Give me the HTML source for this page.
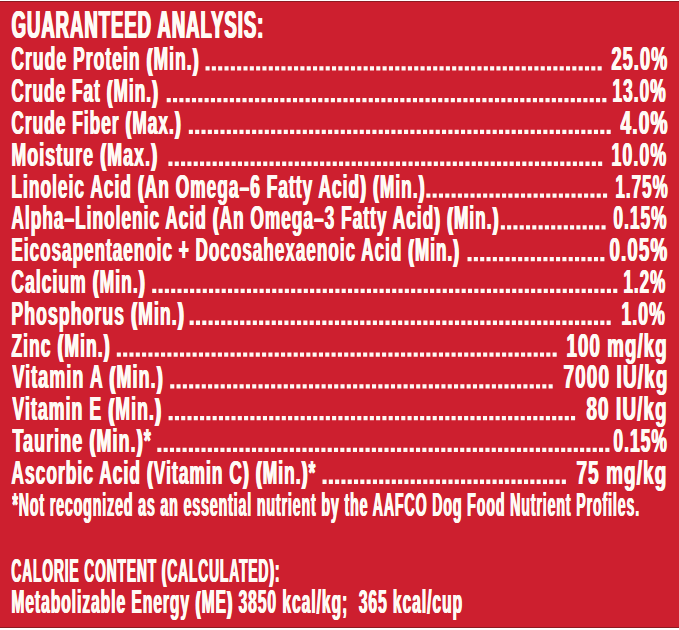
<!DOCTYPE html>
<html><head><meta charset="utf-8"><style>
html,body{margin:0;padding:0}
body{width:679px;height:630px;overflow:hidden;position:relative;background:#cd1f2f}
.t{position:absolute;white-space:pre;font-family:"Liberation Sans",sans-serif;font-weight:bold;font-size:32.6px;line-height:32.6px;color:#fffaf5;transform-origin:0 0;letter-spacing:2px;text-shadow:0.8px 0 0 #fffaf5, 1.6px 0 0 #fffaf5}
.s3{text-shadow:0.8px 0 0 #fffaf5, 1.6px 0 0 #fffaf5, 2.4px 0 0 #fffaf5}
.p{font-size:29px;position:relative;top:-0.6px;letter-spacing:3.5px;text-shadow:0.8px 0 0 #fffaf5, 1.6px 0 0 #fffaf5, 2.5px 0 0 #fffaf5, 3.4px 0 0 #fffaf5}
.b{position:absolute;left:0;width:679px}
</style></head><body>
<div class="b" style="top:0;height:1px;background:#fff"></div><div class="b" style="top:1px;height:1px;background:#8e1a22"></div>
<div class="t s3" style="font-size:38px;line-height:38px;left:11.41px;top:6.00px;transform:scaleX(0.4874)">GUARANTEED ANALYSIS:</div>
<div class="t" style="left:11.06px;top:43.40px;transform:scaleX(0.5351)">Crude Protein <span class="p">(</span>Min.<span class="p">)</span></div>
<div class="t" style="left:611.14px;top:43.40px;transform:scaleX(0.5560)">25.0%</div>
<div class="t" style="left:11.07px;top:75.20px;transform:scaleX(0.5259)">Crude Fat <span class="p">(</span>Min.<span class="p">)</span></div>
<div class="t" style="left:611.54px;top:75.20px;transform:scaleX(0.5293)">13.0%</div>
<div class="t" style="left:11.07px;top:107.00px;transform:scaleX(0.5281)">Crude Fiber <span class="p">(</span>Max.<span class="p">)</span></div>
<div class="t" style="left:619.60px;top:107.00px;transform:scaleX(0.5864)">4.0%</div>
<div class="t" style="left:10.51px;top:138.80px;transform:scaleX(0.5447)">Moisture <span class="p">(</span>Max.<span class="p">)</span></div>
<div class="t" style="left:610.51px;top:138.80px;transform:scaleX(0.5455)">10.0%</div>
<div class="t" style="left:10.54px;top:170.60px;transform:scaleX(0.5297)">Linoleic Acid <span class="p">(</span>An Omega–6 Fatty Acid<span class="p">)</span> <span class="p">(</span>Min.<span class="p">)</span></div>
<div class="t" style="left:614.56px;top:170.60px;transform:scaleX(0.5202)">1.75%</div>
<div class="t" style="left:11.07px;top:202.40px;transform:scaleX(0.5280)">Alpha–Linolenic Acid <span class="p">(</span>An Omega–3 Fatty Acid<span class="p">)</span> <span class="p">(</span>Min.<span class="p">)</span></div>
<div class="t" style="left:612.77px;top:202.40px;transform:scaleX(0.5290)">0.15%</div>
<div class="t" style="left:10.55px;top:234.20px;transform:scaleX(0.5229)">Eicosapentaenoic + Docosahexaenoic Acid <span class="p">(</span>Min.<span class="p">)</span></div>
<div class="t" style="left:608.73px;top:234.20px;transform:scaleX(0.5740)">0.05%</div>
<div class="t" style="left:11.07px;top:266.00px;transform:scaleX(0.5349)">Calcium <span class="p">(</span>Min.<span class="p">)</span></div>
<div class="t" style="left:623.36px;top:266.00px;transform:scaleX(0.5215)">1.2%</div>
<div class="t" style="left:10.52px;top:297.80px;transform:scaleX(0.5410)">Phosphorus <span class="p">(</span>Min.<span class="p">)</span></div>
<div class="t" style="left:621.12px;top:297.80px;transform:scaleX(0.5405)">1.0%</div>
<div class="t" style="left:11.07px;top:329.60px;transform:scaleX(0.5350)">Zinc <span class="p">(</span>Min.<span class="p">)</span></div>
<div class="t" style="left:565.56px;top:329.60px;transform:scaleX(0.5717)">100 mg/kg</div>
<div class="t" style="left:11.60px;top:361.40px;transform:scaleX(0.5493)">Vitamin A <span class="p">(</span>Min.<span class="p">)</span></div>
<div class="t" style="left:562.72px;top:361.40px;transform:scaleX(0.5803)">7000 IU/kg</div>
<div class="t" style="left:11.60px;top:393.20px;transform:scaleX(0.5415)">Vitamin E <span class="p">(</span>Min.<span class="p">)</span></div>
<div class="t" style="left:586.42px;top:393.20px;transform:scaleX(0.5768)">80 IU/kg</div>
<div class="t" style="left:11.60px;top:425.00px;transform:scaleX(0.5480)">Taurine <span class="p">(</span>Min.<span class="p">)</span>*</div>
<div class="t" style="left:612.87px;top:425.00px;transform:scaleX(0.5320)">0.15%</div>
<div class="t" style="left:11.07px;top:456.80px;transform:scaleX(0.5312)">Ascorbic Acid <span class="p">(</span>Vitamin C<span class="p">)</span> <span class="p">(</span>Min.<span class="p">)</span>*</div>
<div class="t" style="left:575.92px;top:456.80px;transform:scaleX(0.5786)">75 mg/kg</div>
<div class="t" style="left:11.60px;top:488.60px;transform:scaleX(0.4352)">*Not recognized as an essential nutrient by the AAFCO Dog Food Nutrient Profiles.</div>
<div class="t" style="left:11.18px;top:554.60px;transform:scaleX(0.4246)">CALORIE CONTENT <span class="p">(</span>CALCULATED<span class="p">)</span>:</div>
<div class="t" style="left:10.64px;top:586.30px;transform:scaleX(0.4789)">Metabolizable Energy <span class="p">(</span>ME<span class="p">)</span> 3850 kcal/kg;  365 kcal/cup</div>
<svg style="position:absolute;left:0;top:0" width="679" height="630"><path fill="#fffaf5" d="M205.50 66.20h4.1v4.3h-4.1zM211.82 66.20h4.1v4.3h-4.1zM218.15 66.20h4.1v4.3h-4.1zM224.47 66.20h4.1v4.3h-4.1zM230.80 66.20h4.1v4.3h-4.1zM237.12 66.20h4.1v4.3h-4.1zM243.45 66.20h4.1v4.3h-4.1zM249.77 66.20h4.1v4.3h-4.1zM256.09 66.20h4.1v4.3h-4.1zM262.42 66.20h4.1v4.3h-4.1zM268.74 66.20h4.1v4.3h-4.1zM275.07 66.20h4.1v4.3h-4.1zM281.39 66.20h4.1v4.3h-4.1zM287.71 66.20h4.1v4.3h-4.1zM294.04 66.20h4.1v4.3h-4.1zM300.36 66.20h4.1v4.3h-4.1zM306.69 66.20h4.1v4.3h-4.1zM313.01 66.20h4.1v4.3h-4.1zM319.34 66.20h4.1v4.3h-4.1zM325.66 66.20h4.1v4.3h-4.1zM331.98 66.20h4.1v4.3h-4.1zM338.31 66.20h4.1v4.3h-4.1zM344.63 66.20h4.1v4.3h-4.1zM350.96 66.20h4.1v4.3h-4.1zM357.28 66.20h4.1v4.3h-4.1zM363.60 66.20h4.1v4.3h-4.1zM369.93 66.20h4.1v4.3h-4.1zM376.25 66.20h4.1v4.3h-4.1zM382.58 66.20h4.1v4.3h-4.1zM388.90 66.20h4.1v4.3h-4.1zM395.23 66.20h4.1v4.3h-4.1zM401.55 66.20h4.1v4.3h-4.1zM407.87 66.20h4.1v4.3h-4.1zM414.20 66.20h4.1v4.3h-4.1zM420.52 66.20h4.1v4.3h-4.1zM426.85 66.20h4.1v4.3h-4.1zM433.17 66.20h4.1v4.3h-4.1zM439.50 66.20h4.1v4.3h-4.1zM445.82 66.20h4.1v4.3h-4.1zM452.14 66.20h4.1v4.3h-4.1zM458.47 66.20h4.1v4.3h-4.1zM464.79 66.20h4.1v4.3h-4.1zM471.12 66.20h4.1v4.3h-4.1zM477.44 66.20h4.1v4.3h-4.1zM483.76 66.20h4.1v4.3h-4.1zM490.09 66.20h4.1v4.3h-4.1zM496.41 66.20h4.1v4.3h-4.1zM502.74 66.20h4.1v4.3h-4.1zM509.06 66.20h4.1v4.3h-4.1zM515.39 66.20h4.1v4.3h-4.1zM521.71 66.20h4.1v4.3h-4.1zM528.03 66.20h4.1v4.3h-4.1zM534.36 66.20h4.1v4.3h-4.1zM540.68 66.20h4.1v4.3h-4.1zM547.01 66.20h4.1v4.3h-4.1zM553.33 66.20h4.1v4.3h-4.1zM559.65 66.20h4.1v4.3h-4.1zM565.98 66.20h4.1v4.3h-4.1zM572.30 66.20h4.1v4.3h-4.1zM578.63 66.20h4.1v4.3h-4.1zM584.95 66.20h4.1v4.3h-4.1zM591.28 66.20h4.1v4.3h-4.1zM597.60 66.20h4.1v4.3h-4.1zM166.70 98.00h4.1v4.3h-4.1zM173.01 98.00h4.1v4.3h-4.1zM179.33 98.00h4.1v4.3h-4.1zM185.64 98.00h4.1v4.3h-4.1zM191.95 98.00h4.1v4.3h-4.1zM198.27 98.00h4.1v4.3h-4.1zM204.58 98.00h4.1v4.3h-4.1zM210.89 98.00h4.1v4.3h-4.1zM217.20 98.00h4.1v4.3h-4.1zM223.52 98.00h4.1v4.3h-4.1zM229.83 98.00h4.1v4.3h-4.1zM236.14 98.00h4.1v4.3h-4.1zM242.46 98.00h4.1v4.3h-4.1zM248.77 98.00h4.1v4.3h-4.1zM255.08 98.00h4.1v4.3h-4.1zM261.40 98.00h4.1v4.3h-4.1zM267.71 98.00h4.1v4.3h-4.1zM274.02 98.00h4.1v4.3h-4.1zM280.33 98.00h4.1v4.3h-4.1zM286.65 98.00h4.1v4.3h-4.1zM292.96 98.00h4.1v4.3h-4.1zM299.27 98.00h4.1v4.3h-4.1zM305.59 98.00h4.1v4.3h-4.1zM311.90 98.00h4.1v4.3h-4.1zM318.21 98.00h4.1v4.3h-4.1zM324.53 98.00h4.1v4.3h-4.1zM330.84 98.00h4.1v4.3h-4.1zM337.15 98.00h4.1v4.3h-4.1zM343.47 98.00h4.1v4.3h-4.1zM349.78 98.00h4.1v4.3h-4.1zM356.09 98.00h4.1v4.3h-4.1zM362.40 98.00h4.1v4.3h-4.1zM368.72 98.00h4.1v4.3h-4.1zM375.03 98.00h4.1v4.3h-4.1zM381.34 98.00h4.1v4.3h-4.1zM387.66 98.00h4.1v4.3h-4.1zM393.97 98.00h4.1v4.3h-4.1zM400.28 98.00h4.1v4.3h-4.1zM406.60 98.00h4.1v4.3h-4.1zM412.91 98.00h4.1v4.3h-4.1zM419.22 98.00h4.1v4.3h-4.1zM425.53 98.00h4.1v4.3h-4.1zM431.85 98.00h4.1v4.3h-4.1zM438.16 98.00h4.1v4.3h-4.1zM444.47 98.00h4.1v4.3h-4.1zM450.79 98.00h4.1v4.3h-4.1zM457.10 98.00h4.1v4.3h-4.1zM463.41 98.00h4.1v4.3h-4.1zM469.73 98.00h4.1v4.3h-4.1zM476.04 98.00h4.1v4.3h-4.1zM482.35 98.00h4.1v4.3h-4.1zM488.67 98.00h4.1v4.3h-4.1zM494.98 98.00h4.1v4.3h-4.1zM501.29 98.00h4.1v4.3h-4.1zM507.60 98.00h4.1v4.3h-4.1zM513.92 98.00h4.1v4.3h-4.1zM520.23 98.00h4.1v4.3h-4.1zM526.54 98.00h4.1v4.3h-4.1zM532.86 98.00h4.1v4.3h-4.1zM539.17 98.00h4.1v4.3h-4.1zM545.48 98.00h4.1v4.3h-4.1zM551.80 98.00h4.1v4.3h-4.1zM558.11 98.00h4.1v4.3h-4.1zM564.42 98.00h4.1v4.3h-4.1zM570.73 98.00h4.1v4.3h-4.1zM577.05 98.00h4.1v4.3h-4.1zM583.36 98.00h4.1v4.3h-4.1zM589.67 98.00h4.1v4.3h-4.1zM595.99 98.00h4.1v4.3h-4.1zM602.30 98.00h4.1v4.3h-4.1zM188.80 129.80h4.1v4.3h-4.1zM195.13 129.80h4.1v4.3h-4.1zM201.46 129.80h4.1v4.3h-4.1zM207.79 129.80h4.1v4.3h-4.1zM214.12 129.80h4.1v4.3h-4.1zM220.45 129.80h4.1v4.3h-4.1zM226.78 129.80h4.1v4.3h-4.1zM233.11 129.80h4.1v4.3h-4.1zM239.44 129.80h4.1v4.3h-4.1zM245.77 129.80h4.1v4.3h-4.1zM252.10 129.80h4.1v4.3h-4.1zM258.43 129.80h4.1v4.3h-4.1zM264.76 129.80h4.1v4.3h-4.1zM271.09 129.80h4.1v4.3h-4.1zM277.42 129.80h4.1v4.3h-4.1zM283.75 129.80h4.1v4.3h-4.1zM290.08 129.80h4.1v4.3h-4.1zM296.42 129.80h4.1v4.3h-4.1zM302.75 129.80h4.1v4.3h-4.1zM309.08 129.80h4.1v4.3h-4.1zM315.41 129.80h4.1v4.3h-4.1zM321.74 129.80h4.1v4.3h-4.1zM328.07 129.80h4.1v4.3h-4.1zM334.40 129.80h4.1v4.3h-4.1zM340.73 129.80h4.1v4.3h-4.1zM347.06 129.80h4.1v4.3h-4.1zM353.39 129.80h4.1v4.3h-4.1zM359.72 129.80h4.1v4.3h-4.1zM366.05 129.80h4.1v4.3h-4.1zM372.38 129.80h4.1v4.3h-4.1zM378.71 129.80h4.1v4.3h-4.1zM385.04 129.80h4.1v4.3h-4.1zM391.37 129.80h4.1v4.3h-4.1zM397.70 129.80h4.1v4.3h-4.1zM404.03 129.80h4.1v4.3h-4.1zM410.36 129.80h4.1v4.3h-4.1zM416.69 129.80h4.1v4.3h-4.1zM423.02 129.80h4.1v4.3h-4.1zM429.35 129.80h4.1v4.3h-4.1zM435.68 129.80h4.1v4.3h-4.1zM442.01 129.80h4.1v4.3h-4.1zM448.34 129.80h4.1v4.3h-4.1zM454.67 129.80h4.1v4.3h-4.1zM461.00 129.80h4.1v4.3h-4.1zM467.33 129.80h4.1v4.3h-4.1zM473.66 129.80h4.1v4.3h-4.1zM479.99 129.80h4.1v4.3h-4.1zM486.32 129.80h4.1v4.3h-4.1zM492.65 129.80h4.1v4.3h-4.1zM498.98 129.80h4.1v4.3h-4.1zM505.32 129.80h4.1v4.3h-4.1zM511.65 129.80h4.1v4.3h-4.1zM517.98 129.80h4.1v4.3h-4.1zM524.31 129.80h4.1v4.3h-4.1zM530.64 129.80h4.1v4.3h-4.1zM536.97 129.80h4.1v4.3h-4.1zM543.30 129.80h4.1v4.3h-4.1zM549.63 129.80h4.1v4.3h-4.1zM555.96 129.80h4.1v4.3h-4.1zM562.29 129.80h4.1v4.3h-4.1zM568.62 129.80h4.1v4.3h-4.1zM574.95 129.80h4.1v4.3h-4.1zM581.28 129.80h4.1v4.3h-4.1zM587.61 129.80h4.1v4.3h-4.1zM593.94 129.80h4.1v4.3h-4.1zM600.27 129.80h4.1v4.3h-4.1zM606.60 129.80h4.1v4.3h-4.1zM168.40 161.60h4.1v4.3h-4.1zM174.72 161.60h4.1v4.3h-4.1zM181.04 161.60h4.1v4.3h-4.1zM187.36 161.60h4.1v4.3h-4.1zM193.68 161.60h4.1v4.3h-4.1zM200.00 161.60h4.1v4.3h-4.1zM206.31 161.60h4.1v4.3h-4.1zM212.63 161.60h4.1v4.3h-4.1zM218.95 161.60h4.1v4.3h-4.1zM225.27 161.60h4.1v4.3h-4.1zM231.59 161.60h4.1v4.3h-4.1zM237.91 161.60h4.1v4.3h-4.1zM244.23 161.60h4.1v4.3h-4.1zM250.55 161.60h4.1v4.3h-4.1zM256.87 161.60h4.1v4.3h-4.1zM263.19 161.60h4.1v4.3h-4.1zM269.51 161.60h4.1v4.3h-4.1zM275.83 161.60h4.1v4.3h-4.1zM282.14 161.60h4.1v4.3h-4.1zM288.46 161.60h4.1v4.3h-4.1zM294.78 161.60h4.1v4.3h-4.1zM301.10 161.60h4.1v4.3h-4.1zM307.42 161.60h4.1v4.3h-4.1zM313.74 161.60h4.1v4.3h-4.1zM320.06 161.60h4.1v4.3h-4.1zM326.38 161.60h4.1v4.3h-4.1zM332.70 161.60h4.1v4.3h-4.1zM339.02 161.60h4.1v4.3h-4.1zM345.34 161.60h4.1v4.3h-4.1zM351.65 161.60h4.1v4.3h-4.1zM357.97 161.60h4.1v4.3h-4.1zM364.29 161.60h4.1v4.3h-4.1zM370.61 161.60h4.1v4.3h-4.1zM376.93 161.60h4.1v4.3h-4.1zM383.25 161.60h4.1v4.3h-4.1zM389.57 161.60h4.1v4.3h-4.1zM395.89 161.60h4.1v4.3h-4.1zM402.21 161.60h4.1v4.3h-4.1zM408.53 161.60h4.1v4.3h-4.1zM414.85 161.60h4.1v4.3h-4.1zM421.16 161.60h4.1v4.3h-4.1zM427.48 161.60h4.1v4.3h-4.1zM433.80 161.60h4.1v4.3h-4.1zM440.12 161.60h4.1v4.3h-4.1zM446.44 161.60h4.1v4.3h-4.1zM452.76 161.60h4.1v4.3h-4.1zM459.08 161.60h4.1v4.3h-4.1zM465.40 161.60h4.1v4.3h-4.1zM471.72 161.60h4.1v4.3h-4.1zM478.04 161.60h4.1v4.3h-4.1zM484.36 161.60h4.1v4.3h-4.1zM490.68 161.60h4.1v4.3h-4.1zM496.99 161.60h4.1v4.3h-4.1zM503.31 161.60h4.1v4.3h-4.1zM509.63 161.60h4.1v4.3h-4.1zM515.95 161.60h4.1v4.3h-4.1zM522.27 161.60h4.1v4.3h-4.1zM528.59 161.60h4.1v4.3h-4.1zM534.91 161.60h4.1v4.3h-4.1zM541.23 161.60h4.1v4.3h-4.1zM547.55 161.60h4.1v4.3h-4.1zM553.87 161.60h4.1v4.3h-4.1zM560.19 161.60h4.1v4.3h-4.1zM566.50 161.60h4.1v4.3h-4.1zM572.82 161.60h4.1v4.3h-4.1zM579.14 161.60h4.1v4.3h-4.1zM585.46 161.60h4.1v4.3h-4.1zM591.78 161.60h4.1v4.3h-4.1zM598.10 161.60h4.1v4.3h-4.1zM426.30 193.40h4.1v4.3h-4.1zM432.61 193.40h4.1v4.3h-4.1zM438.92 193.40h4.1v4.3h-4.1zM445.23 193.40h4.1v4.3h-4.1zM451.54 193.40h4.1v4.3h-4.1zM457.85 193.40h4.1v4.3h-4.1zM464.16 193.40h4.1v4.3h-4.1zM470.48 193.40h4.1v4.3h-4.1zM476.79 193.40h4.1v4.3h-4.1zM483.10 193.40h4.1v4.3h-4.1zM489.41 193.40h4.1v4.3h-4.1zM495.72 193.40h4.1v4.3h-4.1zM502.03 193.40h4.1v4.3h-4.1zM508.34 193.40h4.1v4.3h-4.1zM514.65 193.40h4.1v4.3h-4.1zM520.96 193.40h4.1v4.3h-4.1zM527.27 193.40h4.1v4.3h-4.1zM533.58 193.40h4.1v4.3h-4.1zM539.89 193.40h4.1v4.3h-4.1zM546.20 193.40h4.1v4.3h-4.1zM552.51 193.40h4.1v4.3h-4.1zM558.83 193.40h4.1v4.3h-4.1zM565.14 193.40h4.1v4.3h-4.1zM571.45 193.40h4.1v4.3h-4.1zM577.76 193.40h4.1v4.3h-4.1zM584.07 193.40h4.1v4.3h-4.1zM590.38 193.40h4.1v4.3h-4.1zM596.69 193.40h4.1v4.3h-4.1zM603.00 193.40h4.1v4.3h-4.1zM500.80 225.20h4.1v4.3h-4.1zM507.09 225.20h4.1v4.3h-4.1zM513.39 225.20h4.1v4.3h-4.1zM519.68 225.20h4.1v4.3h-4.1zM525.98 225.20h4.1v4.3h-4.1zM532.27 225.20h4.1v4.3h-4.1zM538.56 225.20h4.1v4.3h-4.1zM544.86 225.20h4.1v4.3h-4.1zM551.15 225.20h4.1v4.3h-4.1zM557.44 225.20h4.1v4.3h-4.1zM563.74 225.20h4.1v4.3h-4.1zM570.03 225.20h4.1v4.3h-4.1zM576.33 225.20h4.1v4.3h-4.1zM582.62 225.20h4.1v4.3h-4.1zM588.91 225.20h4.1v4.3h-4.1zM595.21 225.20h4.1v4.3h-4.1zM601.50 225.20h4.1v4.3h-4.1zM467.50 257.00h4.1v4.3h-4.1zM473.82 257.00h4.1v4.3h-4.1zM480.15 257.00h4.1v4.3h-4.1zM486.47 257.00h4.1v4.3h-4.1zM492.80 257.00h4.1v4.3h-4.1zM499.12 257.00h4.1v4.3h-4.1zM505.44 257.00h4.1v4.3h-4.1zM511.77 257.00h4.1v4.3h-4.1zM518.09 257.00h4.1v4.3h-4.1zM524.41 257.00h4.1v4.3h-4.1zM530.74 257.00h4.1v4.3h-4.1zM537.06 257.00h4.1v4.3h-4.1zM543.39 257.00h4.1v4.3h-4.1zM549.71 257.00h4.1v4.3h-4.1zM556.03 257.00h4.1v4.3h-4.1zM562.36 257.00h4.1v4.3h-4.1zM568.68 257.00h4.1v4.3h-4.1zM575.00 257.00h4.1v4.3h-4.1zM581.33 257.00h4.1v4.3h-4.1zM587.65 257.00h4.1v4.3h-4.1zM593.98 257.00h4.1v4.3h-4.1zM600.30 257.00h4.1v4.3h-4.1zM152.20 288.80h4.1v4.3h-4.1zM158.52 288.80h4.1v4.3h-4.1zM164.83 288.80h4.1v4.3h-4.1zM171.15 288.80h4.1v4.3h-4.1zM177.46 288.80h4.1v4.3h-4.1zM183.78 288.80h4.1v4.3h-4.1zM190.09 288.80h4.1v4.3h-4.1zM196.41 288.80h4.1v4.3h-4.1zM202.72 288.80h4.1v4.3h-4.1zM209.04 288.80h4.1v4.3h-4.1zM215.35 288.80h4.1v4.3h-4.1zM221.67 288.80h4.1v4.3h-4.1zM227.98 288.80h4.1v4.3h-4.1zM234.30 288.80h4.1v4.3h-4.1zM240.61 288.80h4.1v4.3h-4.1zM246.93 288.80h4.1v4.3h-4.1zM253.24 288.80h4.1v4.3h-4.1zM259.56 288.80h4.1v4.3h-4.1zM265.87 288.80h4.1v4.3h-4.1zM272.19 288.80h4.1v4.3h-4.1zM278.50 288.80h4.1v4.3h-4.1zM284.82 288.80h4.1v4.3h-4.1zM291.13 288.80h4.1v4.3h-4.1zM297.45 288.80h4.1v4.3h-4.1zM303.76 288.80h4.1v4.3h-4.1zM310.08 288.80h4.1v4.3h-4.1zM316.39 288.80h4.1v4.3h-4.1zM322.71 288.80h4.1v4.3h-4.1zM329.02 288.80h4.1v4.3h-4.1zM335.34 288.80h4.1v4.3h-4.1zM341.65 288.80h4.1v4.3h-4.1zM347.97 288.80h4.1v4.3h-4.1zM354.28 288.80h4.1v4.3h-4.1zM360.60 288.80h4.1v4.3h-4.1zM366.91 288.80h4.1v4.3h-4.1zM373.23 288.80h4.1v4.3h-4.1zM379.54 288.80h4.1v4.3h-4.1zM385.86 288.80h4.1v4.3h-4.1zM392.17 288.80h4.1v4.3h-4.1zM398.49 288.80h4.1v4.3h-4.1zM404.80 288.80h4.1v4.3h-4.1zM411.12 288.80h4.1v4.3h-4.1zM417.43 288.80h4.1v4.3h-4.1zM423.75 288.80h4.1v4.3h-4.1zM430.06 288.80h4.1v4.3h-4.1zM436.38 288.80h4.1v4.3h-4.1zM442.69 288.80h4.1v4.3h-4.1zM449.01 288.80h4.1v4.3h-4.1zM455.32 288.80h4.1v4.3h-4.1zM461.64 288.80h4.1v4.3h-4.1zM467.95 288.80h4.1v4.3h-4.1zM474.27 288.80h4.1v4.3h-4.1zM480.58 288.80h4.1v4.3h-4.1zM486.90 288.80h4.1v4.3h-4.1zM493.21 288.80h4.1v4.3h-4.1zM499.53 288.80h4.1v4.3h-4.1zM505.84 288.80h4.1v4.3h-4.1zM512.16 288.80h4.1v4.3h-4.1zM518.47 288.80h4.1v4.3h-4.1zM524.79 288.80h4.1v4.3h-4.1zM531.10 288.80h4.1v4.3h-4.1zM537.42 288.80h4.1v4.3h-4.1zM543.73 288.80h4.1v4.3h-4.1zM550.05 288.80h4.1v4.3h-4.1zM556.36 288.80h4.1v4.3h-4.1zM562.68 288.80h4.1v4.3h-4.1zM568.99 288.80h4.1v4.3h-4.1zM575.31 288.80h4.1v4.3h-4.1zM581.62 288.80h4.1v4.3h-4.1zM587.94 288.80h4.1v4.3h-4.1zM594.25 288.80h4.1v4.3h-4.1zM600.57 288.80h4.1v4.3h-4.1zM606.88 288.80h4.1v4.3h-4.1zM613.20 288.80h4.1v4.3h-4.1zM189.60 320.60h4.1v4.3h-4.1zM195.92 320.60h4.1v4.3h-4.1zM202.24 320.60h4.1v4.3h-4.1zM208.55 320.60h4.1v4.3h-4.1zM214.87 320.60h4.1v4.3h-4.1zM221.19 320.60h4.1v4.3h-4.1zM227.51 320.60h4.1v4.3h-4.1zM233.83 320.60h4.1v4.3h-4.1zM240.15 320.60h4.1v4.3h-4.1zM246.46 320.60h4.1v4.3h-4.1zM252.78 320.60h4.1v4.3h-4.1zM259.10 320.60h4.1v4.3h-4.1zM265.42 320.60h4.1v4.3h-4.1zM271.74 320.60h4.1v4.3h-4.1zM278.05 320.60h4.1v4.3h-4.1zM284.37 320.60h4.1v4.3h-4.1zM290.69 320.60h4.1v4.3h-4.1zM297.01 320.60h4.1v4.3h-4.1zM303.33 320.60h4.1v4.3h-4.1zM309.65 320.60h4.1v4.3h-4.1zM315.96 320.60h4.1v4.3h-4.1zM322.28 320.60h4.1v4.3h-4.1zM328.60 320.60h4.1v4.3h-4.1zM334.92 320.60h4.1v4.3h-4.1zM341.24 320.60h4.1v4.3h-4.1zM347.55 320.60h4.1v4.3h-4.1zM353.87 320.60h4.1v4.3h-4.1zM360.19 320.60h4.1v4.3h-4.1zM366.51 320.60h4.1v4.3h-4.1zM372.83 320.60h4.1v4.3h-4.1zM379.15 320.60h4.1v4.3h-4.1zM385.46 320.60h4.1v4.3h-4.1zM391.78 320.60h4.1v4.3h-4.1zM398.10 320.60h4.1v4.3h-4.1zM404.42 320.60h4.1v4.3h-4.1zM410.74 320.60h4.1v4.3h-4.1zM417.05 320.60h4.1v4.3h-4.1zM423.37 320.60h4.1v4.3h-4.1zM429.69 320.60h4.1v4.3h-4.1zM436.01 320.60h4.1v4.3h-4.1zM442.33 320.60h4.1v4.3h-4.1zM448.65 320.60h4.1v4.3h-4.1zM454.96 320.60h4.1v4.3h-4.1zM461.28 320.60h4.1v4.3h-4.1zM467.60 320.60h4.1v4.3h-4.1zM473.92 320.60h4.1v4.3h-4.1zM480.24 320.60h4.1v4.3h-4.1zM486.55 320.60h4.1v4.3h-4.1zM492.87 320.60h4.1v4.3h-4.1zM499.19 320.60h4.1v4.3h-4.1zM505.51 320.60h4.1v4.3h-4.1zM511.83 320.60h4.1v4.3h-4.1zM518.15 320.60h4.1v4.3h-4.1zM524.46 320.60h4.1v4.3h-4.1zM530.78 320.60h4.1v4.3h-4.1zM537.10 320.60h4.1v4.3h-4.1zM543.42 320.60h4.1v4.3h-4.1zM549.74 320.60h4.1v4.3h-4.1zM556.05 320.60h4.1v4.3h-4.1zM562.37 320.60h4.1v4.3h-4.1zM568.69 320.60h4.1v4.3h-4.1zM575.01 320.60h4.1v4.3h-4.1zM581.33 320.60h4.1v4.3h-4.1zM587.65 320.60h4.1v4.3h-4.1zM593.96 320.60h4.1v4.3h-4.1zM600.28 320.60h4.1v4.3h-4.1zM606.60 320.60h4.1v4.3h-4.1zM116.80 352.40h4.1v4.3h-4.1zM123.12 352.40h4.1v4.3h-4.1zM129.43 352.40h4.1v4.3h-4.1zM135.75 352.40h4.1v4.3h-4.1zM142.06 352.40h4.1v4.3h-4.1zM148.38 352.40h4.1v4.3h-4.1zM154.70 352.40h4.1v4.3h-4.1zM161.01 352.40h4.1v4.3h-4.1zM167.33 352.40h4.1v4.3h-4.1zM173.64 352.40h4.1v4.3h-4.1zM179.96 352.40h4.1v4.3h-4.1zM186.28 352.40h4.1v4.3h-4.1zM192.59 352.40h4.1v4.3h-4.1zM198.91 352.40h4.1v4.3h-4.1zM205.22 352.40h4.1v4.3h-4.1zM211.54 352.40h4.1v4.3h-4.1zM217.86 352.40h4.1v4.3h-4.1zM224.17 352.40h4.1v4.3h-4.1zM230.49 352.40h4.1v4.3h-4.1zM236.80 352.40h4.1v4.3h-4.1zM243.12 352.40h4.1v4.3h-4.1zM249.43 352.40h4.1v4.3h-4.1zM255.75 352.40h4.1v4.3h-4.1zM262.07 352.40h4.1v4.3h-4.1zM268.38 352.40h4.1v4.3h-4.1zM274.70 352.40h4.1v4.3h-4.1zM281.01 352.40h4.1v4.3h-4.1zM287.33 352.40h4.1v4.3h-4.1zM293.65 352.40h4.1v4.3h-4.1zM299.96 352.40h4.1v4.3h-4.1zM306.28 352.40h4.1v4.3h-4.1zM312.59 352.40h4.1v4.3h-4.1zM318.91 352.40h4.1v4.3h-4.1zM325.23 352.40h4.1v4.3h-4.1zM331.54 352.40h4.1v4.3h-4.1zM337.86 352.40h4.1v4.3h-4.1zM344.17 352.40h4.1v4.3h-4.1zM350.49 352.40h4.1v4.3h-4.1zM356.81 352.40h4.1v4.3h-4.1zM363.12 352.40h4.1v4.3h-4.1zM369.44 352.40h4.1v4.3h-4.1zM375.75 352.40h4.1v4.3h-4.1zM382.07 352.40h4.1v4.3h-4.1zM388.39 352.40h4.1v4.3h-4.1zM394.70 352.40h4.1v4.3h-4.1zM401.02 352.40h4.1v4.3h-4.1zM407.33 352.40h4.1v4.3h-4.1zM413.65 352.40h4.1v4.3h-4.1zM419.97 352.40h4.1v4.3h-4.1zM426.28 352.40h4.1v4.3h-4.1zM432.60 352.40h4.1v4.3h-4.1zM438.91 352.40h4.1v4.3h-4.1zM445.23 352.40h4.1v4.3h-4.1zM451.54 352.40h4.1v4.3h-4.1zM457.86 352.40h4.1v4.3h-4.1zM464.18 352.40h4.1v4.3h-4.1zM470.49 352.40h4.1v4.3h-4.1zM476.81 352.40h4.1v4.3h-4.1zM483.12 352.40h4.1v4.3h-4.1zM489.44 352.40h4.1v4.3h-4.1zM495.76 352.40h4.1v4.3h-4.1zM502.07 352.40h4.1v4.3h-4.1zM508.39 352.40h4.1v4.3h-4.1zM514.70 352.40h4.1v4.3h-4.1zM521.02 352.40h4.1v4.3h-4.1zM527.34 352.40h4.1v4.3h-4.1zM533.65 352.40h4.1v4.3h-4.1zM539.97 352.40h4.1v4.3h-4.1zM546.28 352.40h4.1v4.3h-4.1zM552.60 352.40h4.1v4.3h-4.1zM170.20 384.20h4.1v4.3h-4.1zM176.51 384.20h4.1v4.3h-4.1zM182.81 384.20h4.1v4.3h-4.1zM189.12 384.20h4.1v4.3h-4.1zM195.43 384.20h4.1v4.3h-4.1zM201.73 384.20h4.1v4.3h-4.1zM208.04 384.20h4.1v4.3h-4.1zM214.35 384.20h4.1v4.3h-4.1zM220.65 384.20h4.1v4.3h-4.1zM226.96 384.20h4.1v4.3h-4.1zM233.27 384.20h4.1v4.3h-4.1zM239.57 384.20h4.1v4.3h-4.1zM245.88 384.20h4.1v4.3h-4.1zM252.19 384.20h4.1v4.3h-4.1zM258.49 384.20h4.1v4.3h-4.1zM264.80 384.20h4.1v4.3h-4.1zM271.11 384.20h4.1v4.3h-4.1zM277.41 384.20h4.1v4.3h-4.1zM283.72 384.20h4.1v4.3h-4.1zM290.03 384.20h4.1v4.3h-4.1zM296.33 384.20h4.1v4.3h-4.1zM302.64 384.20h4.1v4.3h-4.1zM308.95 384.20h4.1v4.3h-4.1zM315.25 384.20h4.1v4.3h-4.1zM321.56 384.20h4.1v4.3h-4.1zM327.87 384.20h4.1v4.3h-4.1zM334.17 384.20h4.1v4.3h-4.1zM340.48 384.20h4.1v4.3h-4.1zM346.79 384.20h4.1v4.3h-4.1zM353.09 384.20h4.1v4.3h-4.1zM359.40 384.20h4.1v4.3h-4.1zM365.71 384.20h4.1v4.3h-4.1zM372.01 384.20h4.1v4.3h-4.1zM378.32 384.20h4.1v4.3h-4.1zM384.63 384.20h4.1v4.3h-4.1zM390.93 384.20h4.1v4.3h-4.1zM397.24 384.20h4.1v4.3h-4.1zM403.55 384.20h4.1v4.3h-4.1zM409.85 384.20h4.1v4.3h-4.1zM416.16 384.20h4.1v4.3h-4.1zM422.47 384.20h4.1v4.3h-4.1zM428.77 384.20h4.1v4.3h-4.1zM435.08 384.20h4.1v4.3h-4.1zM441.39 384.20h4.1v4.3h-4.1zM447.69 384.20h4.1v4.3h-4.1zM454.00 384.20h4.1v4.3h-4.1zM460.31 384.20h4.1v4.3h-4.1zM466.61 384.20h4.1v4.3h-4.1zM472.92 384.20h4.1v4.3h-4.1zM479.23 384.20h4.1v4.3h-4.1zM485.53 384.20h4.1v4.3h-4.1zM491.84 384.20h4.1v4.3h-4.1zM498.15 384.20h4.1v4.3h-4.1zM504.45 384.20h4.1v4.3h-4.1zM510.76 384.20h4.1v4.3h-4.1zM517.07 384.20h4.1v4.3h-4.1zM523.37 384.20h4.1v4.3h-4.1zM529.68 384.20h4.1v4.3h-4.1zM535.99 384.20h4.1v4.3h-4.1zM542.29 384.20h4.1v4.3h-4.1zM548.60 384.20h4.1v4.3h-4.1zM168.60 416.00h4.1v4.3h-4.1zM174.89 416.00h4.1v4.3h-4.1zM181.17 416.00h4.1v4.3h-4.1zM187.46 416.00h4.1v4.3h-4.1zM193.75 416.00h4.1v4.3h-4.1zM200.04 416.00h4.1v4.3h-4.1zM206.32 416.00h4.1v4.3h-4.1zM212.61 416.00h4.1v4.3h-4.1zM218.90 416.00h4.1v4.3h-4.1zM225.19 416.00h4.1v4.3h-4.1zM231.47 416.00h4.1v4.3h-4.1zM237.76 416.00h4.1v4.3h-4.1zM244.05 416.00h4.1v4.3h-4.1zM250.34 416.00h4.1v4.3h-4.1zM256.62 416.00h4.1v4.3h-4.1zM262.91 416.00h4.1v4.3h-4.1zM269.20 416.00h4.1v4.3h-4.1zM275.49 416.00h4.1v4.3h-4.1zM281.77 416.00h4.1v4.3h-4.1zM288.06 416.00h4.1v4.3h-4.1zM294.35 416.00h4.1v4.3h-4.1zM300.64 416.00h4.1v4.3h-4.1zM306.92 416.00h4.1v4.3h-4.1zM313.21 416.00h4.1v4.3h-4.1zM319.50 416.00h4.1v4.3h-4.1zM325.79 416.00h4.1v4.3h-4.1zM332.07 416.00h4.1v4.3h-4.1zM338.36 416.00h4.1v4.3h-4.1zM344.65 416.00h4.1v4.3h-4.1zM350.94 416.00h4.1v4.3h-4.1zM357.23 416.00h4.1v4.3h-4.1zM363.51 416.00h4.1v4.3h-4.1zM369.80 416.00h4.1v4.3h-4.1zM376.09 416.00h4.1v4.3h-4.1zM382.38 416.00h4.1v4.3h-4.1zM388.66 416.00h4.1v4.3h-4.1zM394.95 416.00h4.1v4.3h-4.1zM401.24 416.00h4.1v4.3h-4.1zM407.52 416.00h4.1v4.3h-4.1zM413.81 416.00h4.1v4.3h-4.1zM420.10 416.00h4.1v4.3h-4.1zM426.39 416.00h4.1v4.3h-4.1zM432.67 416.00h4.1v4.3h-4.1zM438.96 416.00h4.1v4.3h-4.1zM445.25 416.00h4.1v4.3h-4.1zM451.54 416.00h4.1v4.3h-4.1zM457.82 416.00h4.1v4.3h-4.1zM464.11 416.00h4.1v4.3h-4.1zM470.40 416.00h4.1v4.3h-4.1zM476.69 416.00h4.1v4.3h-4.1zM482.98 416.00h4.1v4.3h-4.1zM489.26 416.00h4.1v4.3h-4.1zM495.55 416.00h4.1v4.3h-4.1zM501.84 416.00h4.1v4.3h-4.1zM508.12 416.00h4.1v4.3h-4.1zM514.41 416.00h4.1v4.3h-4.1zM520.70 416.00h4.1v4.3h-4.1zM526.99 416.00h4.1v4.3h-4.1zM533.27 416.00h4.1v4.3h-4.1zM539.56 416.00h4.1v4.3h-4.1zM545.85 416.00h4.1v4.3h-4.1zM552.14 416.00h4.1v4.3h-4.1zM558.42 416.00h4.1v4.3h-4.1zM564.71 416.00h4.1v4.3h-4.1zM571.00 416.00h4.1v4.3h-4.1zM157.30 447.80h4.1v4.3h-4.1zM163.61 447.80h4.1v4.3h-4.1zM169.92 447.80h4.1v4.3h-4.1zM176.23 447.80h4.1v4.3h-4.1zM182.54 447.80h4.1v4.3h-4.1zM188.85 447.80h4.1v4.3h-4.1zM195.16 447.80h4.1v4.3h-4.1zM201.47 447.80h4.1v4.3h-4.1zM207.78 447.80h4.1v4.3h-4.1zM214.09 447.80h4.1v4.3h-4.1zM220.40 447.80h4.1v4.3h-4.1zM226.71 447.80h4.1v4.3h-4.1zM233.02 447.80h4.1v4.3h-4.1zM239.33 447.80h4.1v4.3h-4.1zM245.64 447.80h4.1v4.3h-4.1zM251.95 447.80h4.1v4.3h-4.1zM258.26 447.80h4.1v4.3h-4.1zM264.57 447.80h4.1v4.3h-4.1zM270.88 447.80h4.1v4.3h-4.1zM277.19 447.80h4.1v4.3h-4.1zM283.50 447.80h4.1v4.3h-4.1zM289.81 447.80h4.1v4.3h-4.1zM296.12 447.80h4.1v4.3h-4.1zM302.43 447.80h4.1v4.3h-4.1zM308.74 447.80h4.1v4.3h-4.1zM315.05 447.80h4.1v4.3h-4.1zM321.36 447.80h4.1v4.3h-4.1zM327.67 447.80h4.1v4.3h-4.1zM333.98 447.80h4.1v4.3h-4.1zM340.29 447.80h4.1v4.3h-4.1zM346.60 447.80h4.1v4.3h-4.1zM352.91 447.80h4.1v4.3h-4.1zM359.22 447.80h4.1v4.3h-4.1zM365.53 447.80h4.1v4.3h-4.1zM371.84 447.80h4.1v4.3h-4.1zM378.15 447.80h4.1v4.3h-4.1zM384.45 447.80h4.1v4.3h-4.1zM390.76 447.80h4.1v4.3h-4.1zM397.07 447.80h4.1v4.3h-4.1zM403.38 447.80h4.1v4.3h-4.1zM409.69 447.80h4.1v4.3h-4.1zM416.00 447.80h4.1v4.3h-4.1zM422.31 447.80h4.1v4.3h-4.1zM428.62 447.80h4.1v4.3h-4.1zM434.93 447.80h4.1v4.3h-4.1zM441.24 447.80h4.1v4.3h-4.1zM447.55 447.80h4.1v4.3h-4.1zM453.86 447.80h4.1v4.3h-4.1zM460.17 447.80h4.1v4.3h-4.1zM466.48 447.80h4.1v4.3h-4.1zM472.79 447.80h4.1v4.3h-4.1zM479.10 447.80h4.1v4.3h-4.1zM485.41 447.80h4.1v4.3h-4.1zM491.72 447.80h4.1v4.3h-4.1zM498.03 447.80h4.1v4.3h-4.1zM504.34 447.80h4.1v4.3h-4.1zM510.65 447.80h4.1v4.3h-4.1zM516.96 447.80h4.1v4.3h-4.1zM523.27 447.80h4.1v4.3h-4.1zM529.58 447.80h4.1v4.3h-4.1zM535.89 447.80h4.1v4.3h-4.1zM542.20 447.80h4.1v4.3h-4.1zM548.51 447.80h4.1v4.3h-4.1zM554.82 447.80h4.1v4.3h-4.1zM561.13 447.80h4.1v4.3h-4.1zM567.44 447.80h4.1v4.3h-4.1zM573.75 447.80h4.1v4.3h-4.1zM580.06 447.80h4.1v4.3h-4.1zM586.37 447.80h4.1v4.3h-4.1zM592.68 447.80h4.1v4.3h-4.1zM598.99 447.80h4.1v4.3h-4.1zM605.30 447.80h4.1v4.3h-4.1zM322.50 479.60h4.1v4.3h-4.1zM328.80 479.60h4.1v4.3h-4.1zM335.09 479.60h4.1v4.3h-4.1zM341.39 479.60h4.1v4.3h-4.1zM347.69 479.60h4.1v4.3h-4.1zM353.99 479.60h4.1v4.3h-4.1zM360.28 479.60h4.1v4.3h-4.1zM366.58 479.60h4.1v4.3h-4.1zM372.88 479.60h4.1v4.3h-4.1zM379.18 479.60h4.1v4.3h-4.1zM385.47 479.60h4.1v4.3h-4.1zM391.77 479.60h4.1v4.3h-4.1zM398.07 479.60h4.1v4.3h-4.1zM404.37 479.60h4.1v4.3h-4.1zM410.66 479.60h4.1v4.3h-4.1zM416.96 479.60h4.1v4.3h-4.1zM423.26 479.60h4.1v4.3h-4.1zM429.56 479.60h4.1v4.3h-4.1zM435.85 479.60h4.1v4.3h-4.1zM442.15 479.60h4.1v4.3h-4.1zM448.45 479.60h4.1v4.3h-4.1zM454.74 479.60h4.1v4.3h-4.1zM461.04 479.60h4.1v4.3h-4.1zM467.34 479.60h4.1v4.3h-4.1zM473.64 479.60h4.1v4.3h-4.1zM479.93 479.60h4.1v4.3h-4.1zM486.23 479.60h4.1v4.3h-4.1zM492.53 479.60h4.1v4.3h-4.1zM498.83 479.60h4.1v4.3h-4.1zM505.12 479.60h4.1v4.3h-4.1zM511.42 479.60h4.1v4.3h-4.1zM517.72 479.60h4.1v4.3h-4.1zM524.02 479.60h4.1v4.3h-4.1zM530.31 479.60h4.1v4.3h-4.1zM536.61 479.60h4.1v4.3h-4.1zM542.91 479.60h4.1v4.3h-4.1zM549.21 479.60h4.1v4.3h-4.1zM555.50 479.60h4.1v4.3h-4.1zM561.80 479.60h4.1v4.3h-4.1z"/></svg>
<div class="b" style="top:627px;height:1px;background:#8e1a22"></div><div class="b" style="top:628px;height:2px;background:#fff"></div>
</body></html>
